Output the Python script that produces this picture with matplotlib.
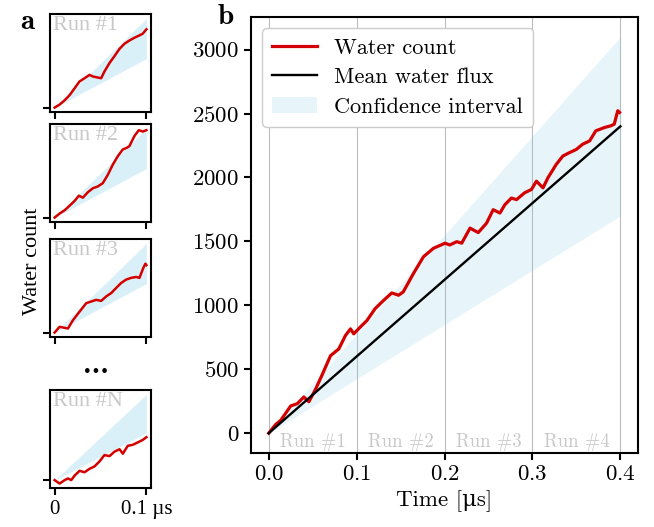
import matplotlib
matplotlib.use("Agg")
import matplotlib.pyplot as plt

plt.rcParams['font.family'] = ['cmr10', 'DejaVu Serif']
plt.rcParams['mathtext.fontset'] = 'cm'
plt.rcParams['axes.formatter.use_mathtext'] = True

# main trace (panel b)
t_main = [0.0, 0.0079, 0.0136, 0.025, 0.0325, 0.040, 0.0457, 0.0533, 0.0608, 0.0703,
          0.0797, 0.0873, 0.093, 0.0967, 0.104, 0.1118, 0.121, 0.1307, 0.140, 0.1477,
          0.153, 0.1647, 0.176, 0.1873, 0.2006, 0.206, 0.2138, 0.2195, 0.229, 0.2383,
          0.2478, 0.2553, 0.263, 0.2686, 0.276, 0.2819, 0.291, 0.2988, 0.3045, 0.312,
          0.3176, 0.327, 0.3346, 0.342, 0.350, 0.357, 0.365, 0.372, 0.382, 0.389,
          0.393, 0.397, 0.399]
w_main = [0, 68, 100, 213, 231, 283, 246, 344, 457, 606,
          659, 764, 816, 777, 829, 882, 974, 1039, 1097, 1079,
          1105, 1250, 1380, 1446, 1486, 1472, 1498, 1486, 1604, 1569,
          1643, 1748, 1722, 1787, 1839, 1827, 1880, 1906, 1971, 1919,
          1998, 2102, 2168, 2194, 2220, 2260, 2286, 2365, 2391, 2404,
          2417, 2522, 2509]

# mean flux line and confidence band end points
t_mean = [0.0, 0.4]
w_mean = [0, 2400]
w_low = [0, 1700]
w_high = [0, 3100]

# small runs (panel a), counts relative to run start
t_run1 = [0.0, 0.0054, 0.011, 0.0163, 0.0217, 0.027, 0.0326, 0.038, 0.0417, 0.047,
          0.0507, 0.0543, 0.0598, 0.065, 0.0707, 0.076, 0.0815, 0.087, 0.0924, 0.096, 0.1]
w_run1 = [0, 26, 64, 108, 167, 226, 255, 284, 270, 261,
          255, 314, 387, 445, 510, 554, 583, 607, 627, 642, 680]
t_run2 = [0.0, 0.0054, 0.011, 0.0163, 0.0217, 0.0264, 0.0308, 0.0362, 0.0417, 0.047,
          0.0525, 0.058, 0.0634, 0.0688, 0.0743, 0.0786, 0.0815, 0.087, 0.0917, 0.096, 0.1]
w_run2 = [0, 35, 64, 103, 144, 190, 173, 220, 255, 270,
          299, 372, 460, 533, 592, 606, 621, 709, 759, 747, 759]
t_run3 = [0.0, 0.0054, 0.011, 0.0145, 0.02, 0.0272, 0.0344, 0.0399, 0.0453, 0.0507,
          0.0562, 0.0616, 0.067, 0.0725, 0.0779, 0.0833, 0.0888, 0.0924, 0.0967, 0.0989, 0.1]
w_run3 = [0, 50, 41, 35, 108, 182, 255, 270, 284, 275,
          314, 343, 387, 431, 460, 475, 483, 475, 563, 598, 586]
t_runN = [0.0, 0.0054, 0.011, 0.0145, 0.0181, 0.0217, 0.0272, 0.0326, 0.038, 0.0435,
          0.049, 0.0543, 0.0598, 0.0652, 0.0707, 0.0743, 0.0797, 0.0851, 0.0906, 0.096, 0.1]
w_runN = [0, -31, 0, 15, 0, 40, 84, 71, 102, 124,
          170, 226, 217, 257, 279, 239, 310, 319, 341, 363, 388]
run_low = [0, 426]
run_high = [0, 774]

runs = [(t_run1, w_run1, 'Run #1'), (t_run2, w_run2, 'Run #2'),
        (t_run3, w_run3, 'Run #3'), (t_runN, w_runN, 'Run #N')]
run_labels = ['Run #1', 'Run #2', 'Run #3', 'Run #4']

red = '#d40000'
band = '#87ceeb'
grey = '#c8c8c8'

fig = plt.figure(figsize=(6.54, 5.27), dpi=100)

# panel b
ax = fig.add_axes([0.384, 0.1404, 0.5915, 0.8273])
ax.plot(t_main, w_main, color=red, lw=2.3, label='Water count', zorder=3)
ax.plot(t_mean, w_mean, color='black', lw=1.7, label='Mean water flux', zorder=4)
ax.fill_between(t_mean, w_low, w_high, color=band, alpha=0.2, lw=0,
                label='Confidence interval')
ax.set_xticks([0.0, 0.1, 0.2, 0.3, 0.4])
ax.set_yticks([0, 500, 1000, 1500, 2000, 2500, 3000])
ax.grid(axis='x', color='#bbbbbb', lw=0.8)
ax.set_axisbelow(True)
for i, lab in enumerate(run_labels):
    ax.text(0.05 + 0.1 * i, -65, lab, ha='center', va='center', color=grey, fontsize=13.5)
ax.tick_params(labelsize=16.5, width=1.5, length=5)
for s in ax.spines.values():
    s.set_linewidth(1.5)
ax.set_xlabel('Time [\u03bcs]', fontsize=16.5)
ax.legend(loc='upper left', fontsize=16, framealpha=1, edgecolor='#cccccc',
          handlelength=2.0, borderpad=0.45, labelspacing=0.45)
fig.text(0.345, 0.967, 'b', fontsize=21, family='cmb10', ha='center', va='center')

# panel a
tops = [0.9734, 0.7647, 0.5465, 0.2600]
for i, (tt, ww, name) in enumerate(runs):
    a = fig.add_axes([0.0765, tops[i] - 0.186, 0.1544, 0.186])
    a.fill_between([0.0, 0.1], run_low, run_high, color=band, alpha=0.3, lw=0)
    a.plot(tt, ww, color=red, lw=1.8)
    a.set_xticks([0.0, 0.1])
    a.set_yticks([0])
    a.set_yticklabels([])
    if i < 3:
        a.set_xticklabels([])
    else:
        a.set_xticklabels(['0', '0.1 µs'], family='Liberation Serif', fontsize=15)
    a.tick_params(width=1.5, length=5)
    for s in a.spines.values():
        s.set_linewidth(1.5)
    a.text(0.03, 0.88, name, transform=a.transAxes, ha='left', va='center',
           color=grey, fontsize=16, family='Liberation Serif')

fig.text(0.147, 0.305, '...', fontsize=18, ha='center', va='center', fontweight='bold',
         family='DejaVu Serif')
fig.text(0.05, 0.505, 'Water count', rotation=90, fontsize=16, ha='center', va='center',
         family='Liberation Serif')
fig.text(0.041, 0.958, 'a', fontsize=21, family='cmb10', ha='center', va='center')

fig.savefig('out.png', dpi=100)
